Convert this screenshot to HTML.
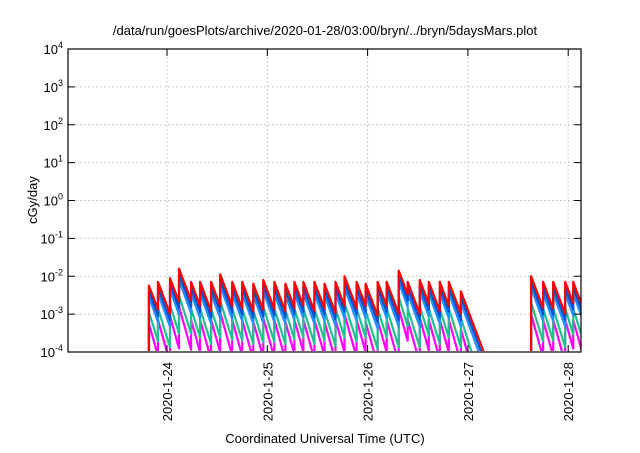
<!DOCTYPE html>
<html><head><meta charset="utf-8"><style>
body{margin:0;background:#fff}
svg text{font-family:"Liberation Sans",sans-serif;fill:#000}
</style></head><body>
<svg width="640" height="448" viewBox="0 0 640 448" id="chart">
<defs><clipPath id="pc"><rect x="68" y="49" width="513" height="302"/></clipPath></defs>
<text x="325" y="35" font-size="13" text-anchor="middle">/data/run/goesPlots/archive/2020-01-28/03:00/bryn/../bryn/5daysMars.plot</text>
<text transform="translate(37,200) rotate(-90)" font-size="13" text-anchor="middle">cGy/day</text>
<text x="325" y="443" font-size="13" text-anchor="middle">Coordinated Universal Time (UTC)</text>
<g id="grid"></g><g id="series" clip-path="url(#pc)"></g><g id="axes"></g>
</svg>
<script>
const yTickExps=[-4,-3,-2,-1,0,1,2,3,4];
const xTickDays=[0,1,2,3,4];
const xTickLabels=["2020-1-24","2020-1-25","2020-1-26","2020-1-27","2020-1-28"];
// peak times (days after 2020-01-24 00:00) and red-series peak log10 values
const peakDays=[-0.18,-0.09,0.03,0.12,0.24,0.33,0.44,0.53,0.65,0.75,0.86,0.96,1.07,1.18,1.27,1.36,1.47,1.57,1.68,1.77,1.89,1.98,2.10,2.19,2.31,2.40,2.52,2.61,2.72,2.81,2.93,3.63,3.75,3.85,3.97,4.05];
const peakLogs=[-2.25,-2.15,-2.05,-1.8,-2.15,-2.15,-2.15,-1.95,-2.15,-2.15,-2.2,-2.1,-2.15,-2.2,-2.15,-2.15,-2.15,-2.2,-2.15,-2.0,-2.15,-2.2,-2.15,-2.15,-1.85,-2.15,-2.1,-2.15,-2.15,-2.15,-2.4,-2.0,-2.15,-2.15,-2.15,-2.15];
const blockEnds=[3.25,4.3]; // end of data blocks (days)
const seriesNames=["magenta","green","light-blue","dark-blue","red"];
const seriesColors=["#ff00ff","#20c090","#1e90ff","#0050d0","#ff0000"];
const seriesOffsets=[-1.0,-0.7,-0.3,-0.15,0];
const seriesDecay=[9.5,8.5,7.3,7.1,7];
const X=d=>167+d*100.3;
const Y=e=>352-(e+4)*37.875;
const NS="http://www.w3.org/2000/svg";
function mk(t,a,p){const e=document.createElementNS(NS,t);for(const k in a)e.setAttribute(k,a[k]);p.appendChild(e);return e;}
const grid=document.getElementById('grid'),axes=document.getElementById('axes'),ser=document.getElementById('series');
yTickExps.forEach(e=>{
 const y=Y(e);
 if(e>-4&&e<4){const g=mk('line',{x1:68,x2:581,y1:y,y2:y,stroke:'#bbb','stroke-dasharray':'1.5,2.5','stroke-width':1},grid);
 
 }
 mk('line',{x1:68,x2:75,y1:y,y2:y,stroke:'#000'},axes);
 mk('line',{x1:574,x2:581,y1:y,y2:y,stroke:'#000'},axes);
 const t=mk('text',{x:63,y:y+5,'font-size':13,'text-anchor':'end'},axes);
 
 
 t.innerHTML='10<tspan dy="-6" font-size="9">'+e+'</tspan>';
});
xTickDays.forEach((d,i)=>{
 const x=X(d);
 const g=mk('line',{x1:x,x2:x,y1:49,y2:352,stroke:'#bbb','stroke-dasharray':'1.5,2.5'},grid);
 
 
 mk('line',{x1:x,x2:x,y1:345,y2:352,stroke:'#000'},axes);
 mk('line',{x1:x,x2:x,y1:49,y2:56,stroke:'#000'},axes);
 const t=mk('text',{transform:`translate(${x+5},362) rotate(-90)`,'font-size':13,'text-anchor':'end'},axes);
 
 
 t.textContent=xTickLabels[i];
});
const fr=mk('rect',{x:68,y:49,width:513,height:303,fill:'none',stroke:'#000','stroke-width':1.2},axes);


seriesNames.forEach((n,s)=>{
 let d='';
 for(let i=0;i<peakDays.length;i++){
  const tp=peakDays[i];
  let end=peakDays[i+1];
  const be=blockEnds.find(b=>b>tp);
  const blockStart=(i===0)||blockEnds.some(b=>b>peakDays[i-1]&&b<tp);
  if(end===undefined||end>be)end=be;
  const pk=peakLogs[i]+seriesOffsets[s];
  if(blockStart)d+=`M${X(tp)},${Y(-4)}`;
  d+=`L${X(tp)},${Y(pk)}`;
  for(let t=tp;t<=end+1e-9;t+=0.01){d+=`L${X(t).toFixed(1)},${Y(pk-seriesDecay[s]*(t-tp)).toFixed(1)}`;}
 }
 const p=mk('path',{d:d,fill:'none',stroke:seriesColors[s],'stroke-width':2.2,'stroke-linejoin':'round'},ser);
 
 
});
</script>
</body></html>
